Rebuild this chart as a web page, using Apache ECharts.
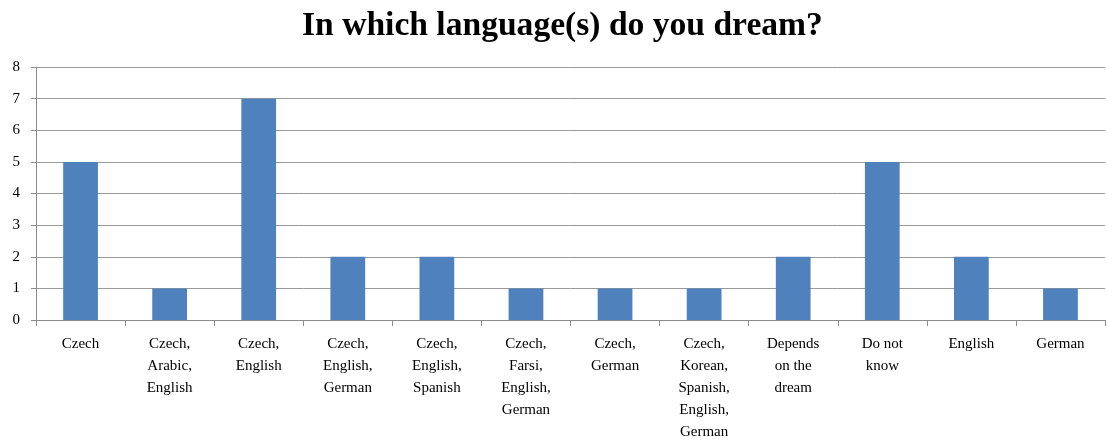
<!DOCTYPE html>
<html>
<head>
<meta charset="utf-8">
<script src="https://cdn.jsdelivr.net/npm/echarts@6/dist/echarts.min.js"></script>
<style>html,body{margin:0;padding:0;background:#fff;}#c{width:1107px;height:443px;}</style>
</head>
<body>
<div id="c"></div>
<script>
var categories = [
  "Czech",
  "Czech,\nArabic,\nEnglish",
  "Czech,\nEnglish",
  "Czech,\nEnglish,\nGerman",
  "Czech,\nEnglish,\nSpanish",
  "Czech,\nFarsi,\nEnglish,\nGerman",
  "Czech,\nGerman",
  "Czech,\nKorean,\nSpanish,\nEnglish,\nGerman",
  "Depends\non the\ndream",
  "Do not\nknow",
  "English",
  "German"
];
var counts = [5, 1, 7, 2, 2, 1, 1, 1, 2, 5, 2, 1];
var titleText = "In which language(s) do you dream?";

var chart = echarts.init(document.getElementById('c'), null, {renderer: 'canvas'});
var serif = '"Liberation Serif", "DejaVu Serif", serif';
chart.setOption({
  animation: false,
  backgroundColor: '#ffffff',
  title: {
    text: titleText,
    left: 297,
    top: 4,
    textStyle: {fontFamily: serif, fontWeight: 'bold', fontSize: 33.6, color: '#000'}
  },
  grid: {left: 36, right: 2, top: 67, bottom: 120, containLabel: false},
  xAxis: {
    type: 'category',
    data: categories,
    axisLine: {lineStyle: {color: '#8c8c8c', width: 1}},
    axisTick: {show: true, length: 6, alignWithLabel: false, lineStyle: {color: '#8c8c8c'}},
    axisLabel: {
      interval: 0,
      margin: 13,
      fontFamily: serif,
      fontSize: 15,
      lineHeight: 22,
      color: '#000',
      align: 'center'
    }
  },
  yAxis: {
    type: 'value',
    min: 0,
    max: 8,
    interval: 1,
    axisLine: {show: true, lineStyle: {color: '#8c8c8c', width: 1}},
    axisTick: {show: true, length: 5, lineStyle: {color: '#8c8c8c'}},
    splitLine: {show: true, lineStyle: {color: '#9a9a9a', width: 1}},
    axisLabel: {fontFamily: serif, fontSize: 15, color: '#000', margin: 16}
  },
  series: [{
    type: 'bar',
    data: counts,
    barWidth: '39%',
    itemStyle: {color: '#4f81bd'}
  }]
});
</script>
</body>
</html>
